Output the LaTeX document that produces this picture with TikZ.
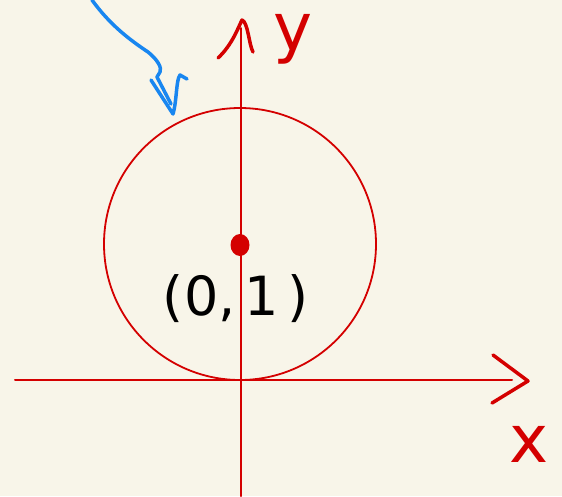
\documentclass[tikz,border=0pt]{standalone}
\usepackage{fontspec}
\setsansfont{DejaVu Sans}
\definecolor{bgcream}{RGB}{248,245,233}
\definecolor{penred}{RGB}{212,0,0}
\definecolor{penblue}{RGB}{24,134,240}
\tikzset{
  axisline/.style={draw=penred, line width=2pt, line cap=round, line join=round},
  tipline/.style={draw=penred, line width=3.5pt, line cap=round, line join=round},
  ringline/.style={draw=penred, line width=1.8pt},
  bluepen/.style={draw=penblue, line width=3.5pt, line cap=round, line join=round},
  redlabel/.style={text=penred, inner sep=0pt, anchor=base, font=\sffamily\fontsize{66}{66}\selectfont},
  blacklabel/.style={text=black, inner sep=0pt, font=\sffamily\fontsize{54}{60}\selectfont}
}
\begin{document}
\begin{tikzpicture}[x=1pt,y=-1pt]
\useasboundingbox (0,0) rectangle (562,496);
\fill[bgcream] (0,0) rectangle (562,496);
% coordinates
\coordinate (xl) at (15,380);
\coordinate (xr) at (512,380);
\coordinate (xtip) at (528,381);
\coordinate (yb) at (241,496);
\coordinate (yt) at (241,28);
\coordinate (ytip) at (242,20);
\coordinate (C) at (240,244);
% axes
\draw[axisline] (xl) -- (xr);
\draw[axisline] (yb) -- (yt);
\draw[tipline] (493,355) -- (xtip) -- (492,403) -- (497,400);
\draw[tipline] (218,58) .. controls (232,45) and (238,28) .. (ytip) .. controls (248,22) and (249,45) .. (253,52);
% circle and centre dot
\draw[ringline] (C) circle[radius=136pt];
\fill[penred] (240,245) ellipse[x radius=9.5pt, y radius=11pt];
% labels
\node[redlabel] (ylab) at (293,50) {y};
\node[redlabel] (xlab) at (529,462) {x};
\node[blacklabel] (pt) at (236,299) {(0,\,1\,)};
% blue pointer
\coordinate (bs) at (92,0);
\coordinate (bm) at (160,72);
\draw[bluepen] (bs) .. controls (110,25) and (130,40) .. (148,52) .. controls (158,60) and (162,68) .. (bm) -- (157,77) -- (171,104);
\draw[bluepen] (151,80) -- (173,114) .. controls (177,100) and (176,80) .. (180,75) -- (187,79);
\end{tikzpicture}
\end{document}
